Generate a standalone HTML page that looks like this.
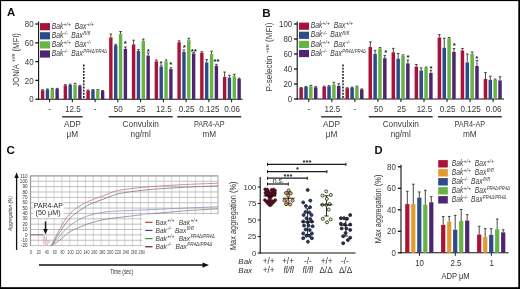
<!DOCTYPE html>
<html><head><meta charset="utf-8"><title>Figure</title>
<style>
html,body{margin:0;padding:0;background:#fff;}
body{width:520px;height:289px;overflow:hidden;}
svg{display:block;font-family:"Liberation Sans", sans-serif;filter:blur(0.35px);}
</style></head>
<body>
<svg width="520" height="289" viewBox="0 0 520 289">
<rect x="0" y="0" width="520" height="289" fill="#fff"/>
<line x1="38.6" y1="21.5" x2="38.6" y2="99.7" stroke="#111" stroke-width="1.1" />
<line x1="38.1" y1="99.2" x2="242.5" y2="99.2" stroke="#111" stroke-width="1.1" />
<line x1="35.4" y1="99.2" x2="38.6" y2="99.2" stroke="#111" stroke-width="1.3" />
<text x="33.6" y="102.3" font-size="8.7" text-anchor="end" font-style="normal" font-weight="normal" fill="#3a3a3a" textLength="4.4" lengthAdjust="spacingAndGlyphs">0</text>
<line x1="35.4" y1="80.4" x2="38.6" y2="80.4" stroke="#111" stroke-width="1.3" />
<text x="33.6" y="83.5" font-size="8.7" text-anchor="end" font-style="normal" font-weight="normal" fill="#3a3a3a" textLength="8.81" lengthAdjust="spacingAndGlyphs">20</text>
<line x1="35.4" y1="61.6" x2="38.6" y2="61.6" stroke="#111" stroke-width="1.3" />
<text x="33.6" y="64.7" font-size="8.7" text-anchor="end" font-style="normal" font-weight="normal" fill="#3a3a3a" textLength="8.81" lengthAdjust="spacingAndGlyphs">40</text>
<line x1="35.4" y1="42.8" x2="38.6" y2="42.8" stroke="#111" stroke-width="1.3" />
<text x="33.6" y="45.9" font-size="8.7" text-anchor="end" font-style="normal" font-weight="normal" fill="#3a3a3a" textLength="8.81" lengthAdjust="spacingAndGlyphs">60</text>
<line x1="35.4" y1="24" x2="38.6" y2="24" stroke="#111" stroke-width="1.3" />
<text x="33.6" y="27.1" font-size="8.7" text-anchor="end" font-style="normal" font-weight="normal" fill="#3a3a3a" textLength="8.81" lengthAdjust="spacingAndGlyphs">80</text>
<line x1="49.6" y1="99.2" x2="49.6" y2="102.2" stroke="#111" stroke-width="1" />
<line x1="42.6" y1="90.27" x2="42.6" y2="89.71" stroke="#333" stroke-width="0.9" />
<line x1="41.3" y1="89.71" x2="43.9" y2="89.71" stroke="#333" stroke-width="0.9" />
<rect x="40.9" y="90.27" width="3.4" height="8.93" fill="#aa1238"/>
<line x1="47.45" y1="89.52" x2="47.45" y2="88.95" stroke="#333" stroke-width="0.9" />
<line x1="46.15" y1="88.95" x2="48.75" y2="88.95" stroke="#333" stroke-width="0.9" />
<rect x="45.75" y="89.52" width="3.4" height="9.68" fill="#2b4b89"/>
<line x1="52.3" y1="88.95" x2="52.3" y2="88.39" stroke="#333" stroke-width="0.9" />
<line x1="51" y1="88.39" x2="53.6" y2="88.39" stroke="#333" stroke-width="0.9" />
<rect x="50.6" y="88.95" width="3.4" height="10.25" fill="#66b443"/>
<line x1="57.15" y1="88.95" x2="57.15" y2="88.39" stroke="#333" stroke-width="0.9" />
<line x1="55.85" y1="88.39" x2="58.45" y2="88.39" stroke="#333" stroke-width="0.9" />
<rect x="55.45" y="88.95" width="3.4" height="10.25" fill="#4f2571"/>
<line x1="72.35" y1="99.2" x2="72.35" y2="102.2" stroke="#111" stroke-width="1" />
<line x1="65.35" y1="85.38" x2="65.35" y2="84.63" stroke="#333" stroke-width="0.9" />
<line x1="64.05" y1="84.63" x2="66.65" y2="84.63" stroke="#333" stroke-width="0.9" />
<rect x="63.65" y="85.38" width="3.4" height="13.82" fill="#aa1238"/>
<line x1="70.2" y1="84.91" x2="70.2" y2="84.16" stroke="#333" stroke-width="0.9" />
<line x1="68.9" y1="84.16" x2="71.5" y2="84.16" stroke="#333" stroke-width="0.9" />
<rect x="68.5" y="84.91" width="3.4" height="14.29" fill="#2b4b89"/>
<line x1="75.05" y1="84.44" x2="75.05" y2="83.31" stroke="#333" stroke-width="0.9" />
<line x1="73.75" y1="83.31" x2="76.35" y2="83.31" stroke="#333" stroke-width="0.9" />
<rect x="73.35" y="84.44" width="3.4" height="14.76" fill="#66b443"/>
<line x1="79.9" y1="86.13" x2="79.9" y2="85.38" stroke="#333" stroke-width="0.9" />
<line x1="78.6" y1="85.38" x2="81.2" y2="85.38" stroke="#333" stroke-width="0.9" />
<rect x="78.2" y="86.13" width="3.4" height="13.07" fill="#4f2571"/>
<line x1="95.1" y1="99.2" x2="95.1" y2="102.2" stroke="#111" stroke-width="1" />
<line x1="88.1" y1="90.46" x2="88.1" y2="89.99" stroke="#333" stroke-width="0.9" />
<line x1="86.8" y1="89.99" x2="89.4" y2="89.99" stroke="#333" stroke-width="0.9" />
<rect x="86.4" y="90.46" width="3.4" height="8.74" fill="#aa1238"/>
<line x1="92.95" y1="90.08" x2="92.95" y2="89.61" stroke="#333" stroke-width="0.9" />
<line x1="91.65" y1="89.61" x2="94.25" y2="89.61" stroke="#333" stroke-width="0.9" />
<rect x="91.25" y="90.08" width="3.4" height="9.12" fill="#2b4b89"/>
<line x1="97.8" y1="90.08" x2="97.8" y2="89.61" stroke="#333" stroke-width="0.9" />
<line x1="96.5" y1="89.61" x2="99.1" y2="89.61" stroke="#333" stroke-width="0.9" />
<rect x="96.1" y="90.08" width="3.4" height="9.12" fill="#66b443"/>
<line x1="102.65" y1="91.02" x2="102.65" y2="90.55" stroke="#333" stroke-width="0.9" />
<line x1="101.35" y1="90.55" x2="103.95" y2="90.55" stroke="#333" stroke-width="0.9" />
<rect x="100.95" y="91.02" width="3.4" height="8.18" fill="#4f2571"/>
<line x1="117.85" y1="99.2" x2="117.85" y2="102.2" stroke="#111" stroke-width="1" />
<line x1="110.85" y1="37.44" x2="110.85" y2="34.06" stroke="#333" stroke-width="0.9" />
<line x1="109.55" y1="34.06" x2="112.15" y2="34.06" stroke="#333" stroke-width="0.9" />
<rect x="109.15" y="37.44" width="3.4" height="61.76" fill="#aa1238"/>
<line x1="115.7" y1="45.24" x2="115.7" y2="44.3" stroke="#333" stroke-width="0.9" />
<line x1="114.4" y1="44.3" x2="117" y2="44.3" stroke="#333" stroke-width="0.9" />
<rect x="114" y="45.24" width="3.4" height="53.96" fill="#2b4b89"/>
<line x1="120.55" y1="33.96" x2="120.55" y2="31.52" stroke="#333" stroke-width="0.9" />
<line x1="119.25" y1="31.52" x2="121.85" y2="31.52" stroke="#333" stroke-width="0.9" />
<rect x="118.85" y="33.96" width="3.4" height="65.24" fill="#66b443"/>
<line x1="125.4" y1="48.91" x2="125.4" y2="47.03" stroke="#333" stroke-width="0.9" />
<line x1="124.1" y1="47.03" x2="126.7" y2="47.03" stroke="#333" stroke-width="0.9" />
<rect x="123.7" y="48.91" width="3.4" height="50.29" fill="#4f2571"/>
<line x1="140.6" y1="99.2" x2="140.6" y2="102.2" stroke="#111" stroke-width="1" />
<line x1="133.6" y1="44.4" x2="133.6" y2="40.17" stroke="#333" stroke-width="0.9" />
<line x1="132.3" y1="40.17" x2="134.9" y2="40.17" stroke="#333" stroke-width="0.9" />
<rect x="131.9" y="44.4" width="3.4" height="54.8" fill="#aa1238"/>
<line x1="138.45" y1="50.98" x2="138.45" y2="49.57" stroke="#333" stroke-width="0.9" />
<line x1="137.15" y1="49.57" x2="139.75" y2="49.57" stroke="#333" stroke-width="0.9" />
<rect x="136.75" y="50.98" width="3.4" height="48.22" fill="#2b4b89"/>
<line x1="143.3" y1="40.92" x2="143.3" y2="39.04" stroke="#333" stroke-width="0.9" />
<line x1="142" y1="39.04" x2="144.6" y2="39.04" stroke="#333" stroke-width="0.9" />
<rect x="141.6" y="40.92" width="3.4" height="58.28" fill="#66b443"/>
<line x1="148.15" y1="55.58" x2="148.15" y2="52.95" stroke="#333" stroke-width="0.9" />
<line x1="146.85" y1="52.95" x2="149.45" y2="52.95" stroke="#333" stroke-width="0.9" />
<rect x="146.45" y="55.58" width="3.4" height="43.62" fill="#4f2571"/>
<line x1="163.35" y1="99.2" x2="163.35" y2="102.2" stroke="#111" stroke-width="1" />
<line x1="156.35" y1="61.32" x2="156.35" y2="59.91" stroke="#333" stroke-width="0.9" />
<line x1="155.05" y1="59.91" x2="157.65" y2="59.91" stroke="#333" stroke-width="0.9" />
<rect x="154.65" y="61.32" width="3.4" height="37.88" fill="#aa1238"/>
<line x1="161.2" y1="66.49" x2="161.2" y2="65.08" stroke="#333" stroke-width="0.9" />
<line x1="159.9" y1="65.08" x2="162.5" y2="65.08" stroke="#333" stroke-width="0.9" />
<rect x="159.5" y="66.49" width="3.4" height="32.71" fill="#2b4b89"/>
<line x1="166.05" y1="61.32" x2="166.05" y2="59.91" stroke="#333" stroke-width="0.9" />
<line x1="164.75" y1="59.91" x2="167.35" y2="59.91" stroke="#333" stroke-width="0.9" />
<rect x="164.35" y="61.32" width="3.4" height="37.88" fill="#66b443"/>
<line x1="170.9" y1="69.12" x2="170.9" y2="67.71" stroke="#333" stroke-width="0.9" />
<line x1="169.6" y1="67.71" x2="172.2" y2="67.71" stroke="#333" stroke-width="0.9" />
<rect x="169.2" y="69.12" width="3.4" height="30.08" fill="#4f2571"/>
<line x1="186.1" y1="99.2" x2="186.1" y2="102.2" stroke="#111" stroke-width="1" />
<line x1="179.1" y1="42.24" x2="179.1" y2="40.83" stroke="#333" stroke-width="0.9" />
<line x1="177.8" y1="40.83" x2="180.4" y2="40.83" stroke="#333" stroke-width="0.9" />
<rect x="177.4" y="42.24" width="3.4" height="56.96" fill="#aa1238"/>
<line x1="183.95" y1="51.92" x2="183.95" y2="49.94" stroke="#333" stroke-width="0.9" />
<line x1="182.65" y1="49.94" x2="185.25" y2="49.94" stroke="#333" stroke-width="0.9" />
<rect x="182.25" y="51.92" width="3.4" height="47.28" fill="#2b4b89"/>
<line x1="188.8" y1="40.17" x2="188.8" y2="38.29" stroke="#333" stroke-width="0.9" />
<line x1="187.5" y1="38.29" x2="190.1" y2="38.29" stroke="#333" stroke-width="0.9" />
<rect x="187.1" y="40.17" width="3.4" height="59.03" fill="#66b443"/>
<line x1="193.65" y1="53.52" x2="193.65" y2="52.58" stroke="#333" stroke-width="0.9" />
<line x1="192.35" y1="52.58" x2="194.95" y2="52.58" stroke="#333" stroke-width="0.9" />
<rect x="191.95" y="53.52" width="3.4" height="45.68" fill="#4f2571"/>
<line x1="208.85" y1="99.2" x2="208.85" y2="102.2" stroke="#111" stroke-width="1" />
<line x1="201.85" y1="52.67" x2="201.85" y2="51.73" stroke="#333" stroke-width="0.9" />
<line x1="200.55" y1="51.73" x2="203.15" y2="51.73" stroke="#333" stroke-width="0.9" />
<rect x="200.15" y="52.67" width="3.4" height="46.53" fill="#aa1238"/>
<line x1="206.7" y1="62.45" x2="206.7" y2="59.63" stroke="#333" stroke-width="0.9" />
<line x1="205.4" y1="59.63" x2="208" y2="59.63" stroke="#333" stroke-width="0.9" />
<rect x="205" y="62.45" width="3.4" height="36.75" fill="#2b4b89"/>
<line x1="211.55" y1="53.99" x2="211.55" y2="51.26" stroke="#333" stroke-width="0.9" />
<line x1="210.25" y1="51.26" x2="212.85" y2="51.26" stroke="#333" stroke-width="0.9" />
<rect x="209.85" y="53.99" width="3.4" height="45.21" fill="#66b443"/>
<line x1="216.4" y1="65.74" x2="216.4" y2="64.33" stroke="#333" stroke-width="0.9" />
<line x1="215.1" y1="64.33" x2="217.7" y2="64.33" stroke="#333" stroke-width="0.9" />
<rect x="214.7" y="65.74" width="3.4" height="33.46" fill="#4f2571"/>
<line x1="231.6" y1="99.2" x2="231.6" y2="102.2" stroke="#111" stroke-width="1" />
<line x1="224.6" y1="77.02" x2="224.6" y2="72.03" stroke="#333" stroke-width="0.9" />
<line x1="223.3" y1="72.03" x2="225.9" y2="72.03" stroke="#333" stroke-width="0.9" />
<rect x="222.9" y="77.02" width="3.4" height="22.18" fill="#aa1238"/>
<line x1="229.45" y1="77.58" x2="229.45" y2="75.32" stroke="#333" stroke-width="0.9" />
<line x1="228.15" y1="75.32" x2="230.75" y2="75.32" stroke="#333" stroke-width="0.9" />
<rect x="227.75" y="77.58" width="3.4" height="21.62" fill="#2b4b89"/>
<line x1="234.3" y1="76.17" x2="234.3" y2="74.29" stroke="#333" stroke-width="0.9" />
<line x1="233" y1="74.29" x2="235.6" y2="74.29" stroke="#333" stroke-width="0.9" />
<rect x="232.6" y="76.17" width="3.4" height="23.03" fill="#66b443"/>
<line x1="239.15" y1="78.99" x2="239.15" y2="78.14" stroke="#333" stroke-width="0.9" />
<line x1="237.85" y1="78.14" x2="240.45" y2="78.14" stroke="#333" stroke-width="0.9" />
<rect x="237.45" y="78.99" width="3.4" height="20.21" fill="#4f2571"/>
<text x="125.3" y="46.4" font-size="8" text-anchor="middle" font-weight="bold" font-style="normal" fill="#1a1a1a" >*</text>
<text x="148.2" y="54.4" font-size="8" text-anchor="middle" font-weight="bold" font-style="normal" fill="#1a1a1a" >*</text>
<text x="161" y="66.4" font-size="8" text-anchor="middle" font-weight="bold" font-style="normal" fill="#1a1a1a" >*</text>
<text x="170.7" y="67.4" font-size="8" text-anchor="middle" font-weight="bold" font-style="normal" fill="#1a1a1a" >*</text>
<text x="184.2" y="49.7" font-size="8" text-anchor="middle" font-weight="bold" font-style="normal" fill="#1a1a1a" >*</text>
<text x="193.8" y="53.9" font-size="8" text-anchor="middle" font-weight="bold" font-style="normal" fill="#1a1a1a" >**</text>
<text x="216.6" y="64.3" font-size="8" text-anchor="middle" font-weight="bold" font-style="normal" fill="#1a1a1a" >**</text>
<line x1="83.8" y1="64.5" x2="83.8" y2="98.2" stroke="#151515" stroke-width="1.5" stroke-dasharray="1.9,1.25"/>
<text x="49.6" y="112.4" font-size="8.7" text-anchor="middle" font-style="normal" font-weight="normal" fill="#3a3a3a" textLength="2.69" lengthAdjust="spacingAndGlyphs">-</text>
<text x="72.85" y="112.4" font-size="8.7" text-anchor="middle" font-style="normal" font-weight="normal" fill="#3a3a3a" textLength="15.75" lengthAdjust="spacingAndGlyphs">12.5</text>
<text x="95.1" y="112.4" font-size="8.7" text-anchor="middle" font-style="normal" font-weight="normal" fill="#3a3a3a" textLength="2.69" lengthAdjust="spacingAndGlyphs">-</text>
<text x="118.35" y="112.4" font-size="8.7" text-anchor="middle" font-style="normal" font-weight="normal" fill="#3a3a3a" textLength="9" lengthAdjust="spacingAndGlyphs">50</text>
<text x="141.1" y="112.4" font-size="8.7" text-anchor="middle" font-style="normal" font-weight="normal" fill="#3a3a3a" textLength="9" lengthAdjust="spacingAndGlyphs">25</text>
<text x="163.85" y="112.4" font-size="8.7" text-anchor="middle" font-style="normal" font-weight="normal" fill="#3a3a3a" textLength="15.75" lengthAdjust="spacingAndGlyphs">12.5</text>
<text x="186.6" y="112.4" font-size="8.7" text-anchor="middle" font-style="normal" font-weight="normal" fill="#3a3a3a" textLength="15.75" lengthAdjust="spacingAndGlyphs">0.25</text>
<text x="209.35" y="112.4" font-size="8.7" text-anchor="middle" font-style="normal" font-weight="normal" fill="#3a3a3a" textLength="20.25" lengthAdjust="spacingAndGlyphs">0.125</text>
<text x="232.1" y="112.4" font-size="8.7" text-anchor="middle" font-style="normal" font-weight="normal" fill="#3a3a3a" textLength="15.75" lengthAdjust="spacingAndGlyphs">0.06</text>
<line x1="62.1" y1="116.8" x2="82.7" y2="116.8" stroke="#333" stroke-width="1.4" />
<text x="72.4" y="126.7" font-size="8.5" text-anchor="middle" font-style="normal" font-weight="normal" fill="#3a3a3a" textLength="16.95" lengthAdjust="spacingAndGlyphs">ADP</text>
<text x="72.4" y="136.7" font-size="8.5" text-anchor="middle" font-style="normal" font-weight="normal" fill="#3a3a3a" textLength="11.62" lengthAdjust="spacingAndGlyphs">μM</text>
<line x1="108.7" y1="116.8" x2="172.7" y2="116.8" stroke="#333" stroke-width="1.4" />
<text x="140.7" y="126.7" font-size="8.5" text-anchor="middle" font-style="normal" font-weight="normal" fill="#3a3a3a" textLength="36.21" lengthAdjust="spacingAndGlyphs">Convulxin</text>
<text x="140.7" y="136.7" font-size="8.5" text-anchor="middle" font-style="normal" font-weight="normal" fill="#3a3a3a" textLength="20.16" lengthAdjust="spacingAndGlyphs">ng/ml</text>
<line x1="177.3" y1="116.8" x2="241.2" y2="116.8" stroke="#333" stroke-width="1.4" />
<text x="209.25" y="126.7" font-size="8.5" text-anchor="middle" font-style="normal" font-weight="normal" fill="#3a3a3a" textLength="30.74" lengthAdjust="spacingAndGlyphs">PAR4-AP</text>
<text x="209.25" y="136.7" font-size="8.5" text-anchor="middle" font-style="normal" font-weight="normal" fill="#3a3a3a" textLength="13.74" lengthAdjust="spacingAndGlyphs">mM</text>
<rect x="40" y="23.1" width="10" height="7.2" fill="#aa1238"/>
<text font-style="italic" fill="#3a3a3a" font-size="8.4" x="51.7" y="28.8" textLength="11.6" lengthAdjust="spacingAndGlyphs">Bak</text>
<text font-style="italic" fill="#3a3a3a" font-size="5.6" x="63.6" y="25.9" textLength="7.2" lengthAdjust="spacingAndGlyphs">+/+</text>
<text font-style="italic" fill="#3a3a3a" font-size="8.4" x="74.8" y="28.8" textLength="11.6" lengthAdjust="spacingAndGlyphs">Bax</text>
<text font-style="italic" fill="#3a3a3a" font-size="5.6" x="86.8" y="25.9" textLength="7.2" lengthAdjust="spacingAndGlyphs">+/+</text>
<rect x="40" y="32.2" width="10" height="7.2" fill="#2b4b89"/>
<text font-style="italic" fill="#3a3a3a" font-size="8.4" x="51.7" y="37.9" textLength="11.6" lengthAdjust="spacingAndGlyphs">Bak</text>
<text font-style="italic" fill="#3a3a3a" font-size="5.6" x="63.6" y="35" textLength="4.2" lengthAdjust="spacingAndGlyphs">-/-</text>
<text font-style="italic" fill="#3a3a3a" font-size="8.4" x="71.3" y="37.9" textLength="11.6" lengthAdjust="spacingAndGlyphs">Bax</text>
<text font-style="italic" fill="#3a3a3a" font-size="5.6" x="83.3" y="35" textLength="7" lengthAdjust="spacingAndGlyphs">fl/fl</text>
<rect x="40" y="41.3" width="10" height="7.2" fill="#66b443"/>
<text font-style="italic" fill="#3a3a3a" font-size="8.4" x="51.7" y="47" textLength="11.6" lengthAdjust="spacingAndGlyphs">Bak</text>
<text font-style="italic" fill="#3a3a3a" font-size="5.6" x="63.6" y="44.1" textLength="7.2" lengthAdjust="spacingAndGlyphs">+/+</text>
<text font-style="italic" fill="#3a3a3a" font-size="8.4" x="74.8" y="47" textLength="11.6" lengthAdjust="spacingAndGlyphs">Bax</text>
<text font-style="italic" fill="#3a3a3a" font-size="5.6" x="86.8" y="44.1" textLength="4.2" lengthAdjust="spacingAndGlyphs">-/-</text>
<rect x="40" y="50.4" width="10" height="7.2" fill="#4f2571"/>
<text font-style="italic" fill="#3a3a3a" font-size="8.4" x="51.7" y="56.1" textLength="11.6" lengthAdjust="spacingAndGlyphs">Bak</text>
<text font-style="italic" fill="#3a3a3a" font-size="5.6" x="63.6" y="53.2" textLength="4.2" lengthAdjust="spacingAndGlyphs">-/-</text>
<text font-style="italic" fill="#3a3a3a" font-size="8.4" x="71.3" y="56.1" textLength="11.6" lengthAdjust="spacingAndGlyphs">Bax</text>
<text font-style="italic" fill="#3a3a3a" font-size="5.6" x="83.3" y="53.2" textLength="23.6" lengthAdjust="spacingAndGlyphs">PR4Δ/PR4Δ</text>
<text transform="translate(18.7,59.9) rotate(-90)" font-size="9" text-anchor="middle" fill="#3a3a3a" textLength="53.6" lengthAdjust="spacingAndGlyphs">JON/A <tspan font-size='6.2' dy='-3.4'>+ve</tspan><tspan dy='3.4'> (MFI)</tspan></text>
<line x1="297.2" y1="21.5" x2="297.2" y2="99.5" stroke="#111" stroke-width="1.1" />
<line x1="296.7" y1="99" x2="504" y2="99" stroke="#111" stroke-width="1.1" />
<line x1="294" y1="99" x2="297.2" y2="99" stroke="#111" stroke-width="1.3" />
<text x="292.2" y="102.1" font-size="8.7" text-anchor="end" font-style="normal" font-weight="normal" fill="#3a3a3a" textLength="4.4" lengthAdjust="spacingAndGlyphs">0</text>
<line x1="294" y1="84" x2="297.2" y2="84" stroke="#111" stroke-width="1.3" />
<text x="292.2" y="87.1" font-size="8.7" text-anchor="end" font-style="normal" font-weight="normal" fill="#3a3a3a" textLength="8.81" lengthAdjust="spacingAndGlyphs">20</text>
<line x1="294" y1="69" x2="297.2" y2="69" stroke="#111" stroke-width="1.3" />
<text x="292.2" y="72.1" font-size="8.7" text-anchor="end" font-style="normal" font-weight="normal" fill="#3a3a3a" textLength="8.81" lengthAdjust="spacingAndGlyphs">40</text>
<line x1="294" y1="54" x2="297.2" y2="54" stroke="#111" stroke-width="1.3" />
<text x="292.2" y="57.1" font-size="8.7" text-anchor="end" font-style="normal" font-weight="normal" fill="#3a3a3a" textLength="8.81" lengthAdjust="spacingAndGlyphs">60</text>
<line x1="294" y1="39" x2="297.2" y2="39" stroke="#111" stroke-width="1.3" />
<text x="292.2" y="42.1" font-size="8.7" text-anchor="end" font-style="normal" font-weight="normal" fill="#3a3a3a" textLength="8.81" lengthAdjust="spacingAndGlyphs">80</text>
<line x1="294" y1="24" x2="297.2" y2="24" stroke="#111" stroke-width="1.3" />
<text x="292.2" y="27.1" font-size="8.7" text-anchor="end" font-style="normal" font-weight="normal" fill="#3a3a3a" textLength="13.21" lengthAdjust="spacingAndGlyphs">100</text>
<line x1="308.8" y1="99" x2="308.8" y2="102" stroke="#111" stroke-width="1" />
<line x1="301.15" y1="87.97" x2="301.15" y2="87.38" stroke="#333" stroke-width="0.9" />
<line x1="299.85" y1="87.38" x2="302.45" y2="87.38" stroke="#333" stroke-width="0.9" />
<rect x="299.4" y="87.97" width="3.5" height="11.03" fill="#aa1238"/>
<line x1="306" y1="87" x2="306" y2="86.4" stroke="#333" stroke-width="0.9" />
<line x1="304.7" y1="86.4" x2="307.3" y2="86.4" stroke="#333" stroke-width="0.9" />
<rect x="304.25" y="87" width="3.5" height="12" fill="#2b4b89"/>
<line x1="310.85" y1="86.25" x2="310.85" y2="85.35" stroke="#333" stroke-width="0.9" />
<line x1="309.55" y1="85.35" x2="312.15" y2="85.35" stroke="#333" stroke-width="0.9" />
<rect x="309.1" y="86.25" width="3.5" height="12.75" fill="#66b443"/>
<line x1="315.7" y1="87.3" x2="315.7" y2="86.7" stroke="#333" stroke-width="0.9" />
<line x1="314.4" y1="86.7" x2="317" y2="86.7" stroke="#333" stroke-width="0.9" />
<rect x="313.95" y="87.3" width="3.5" height="11.7" fill="#4f2571"/>
<line x1="331.84" y1="99" x2="331.84" y2="102" stroke="#111" stroke-width="1" />
<line x1="324.19" y1="86.78" x2="324.19" y2="86.18" stroke="#333" stroke-width="0.9" />
<line x1="322.89" y1="86.18" x2="325.49" y2="86.18" stroke="#333" stroke-width="0.9" />
<rect x="322.44" y="86.78" width="3.5" height="12.22" fill="#aa1238"/>
<line x1="329.04" y1="86.25" x2="329.04" y2="85.65" stroke="#333" stroke-width="0.9" />
<line x1="327.74" y1="85.65" x2="330.34" y2="85.65" stroke="#333" stroke-width="0.9" />
<rect x="327.29" y="86.25" width="3.5" height="12.75" fill="#2b4b89"/>
<line x1="333.89" y1="84.38" x2="333.89" y2="82.28" stroke="#333" stroke-width="0.9" />
<line x1="332.59" y1="82.28" x2="335.19" y2="82.28" stroke="#333" stroke-width="0.9" />
<rect x="332.14" y="84.38" width="3.5" height="14.62" fill="#66b443"/>
<line x1="338.74" y1="85.88" x2="338.74" y2="83.78" stroke="#333" stroke-width="0.9" />
<line x1="337.44" y1="83.78" x2="340.04" y2="83.78" stroke="#333" stroke-width="0.9" />
<rect x="336.99" y="85.88" width="3.5" height="13.12" fill="#4f2571"/>
<line x1="354.88" y1="99" x2="354.88" y2="102" stroke="#111" stroke-width="1" />
<line x1="347.23" y1="88.2" x2="347.23" y2="87.75" stroke="#333" stroke-width="0.9" />
<line x1="345.93" y1="87.75" x2="348.53" y2="87.75" stroke="#333" stroke-width="0.9" />
<rect x="345.48" y="88.2" width="3.5" height="10.8" fill="#aa1238"/>
<line x1="352.08" y1="87.53" x2="352.08" y2="87.08" stroke="#333" stroke-width="0.9" />
<line x1="350.78" y1="87.08" x2="353.38" y2="87.08" stroke="#333" stroke-width="0.9" />
<rect x="350.33" y="87.53" width="3.5" height="11.47" fill="#2b4b89"/>
<line x1="356.93" y1="86.85" x2="356.93" y2="86.1" stroke="#333" stroke-width="0.9" />
<line x1="355.63" y1="86.1" x2="358.23" y2="86.1" stroke="#333" stroke-width="0.9" />
<rect x="355.18" y="86.85" width="3.5" height="12.15" fill="#66b443"/>
<line x1="361.78" y1="89.4" x2="361.78" y2="88.95" stroke="#333" stroke-width="0.9" />
<line x1="360.48" y1="88.95" x2="363.08" y2="88.95" stroke="#333" stroke-width="0.9" />
<rect x="360.03" y="89.4" width="3.5" height="9.6" fill="#4f2571"/>
<line x1="377.92" y1="99" x2="377.92" y2="102" stroke="#111" stroke-width="1" />
<line x1="370.27" y1="47.03" x2="370.27" y2="41.93" stroke="#333" stroke-width="0.9" />
<line x1="368.97" y1="41.93" x2="371.57" y2="41.93" stroke="#333" stroke-width="0.9" />
<rect x="368.52" y="47.03" width="3.5" height="51.97" fill="#aa1238"/>
<line x1="375.12" y1="54" x2="375.12" y2="50.4" stroke="#333" stroke-width="0.9" />
<line x1="373.82" y1="50.4" x2="376.42" y2="50.4" stroke="#333" stroke-width="0.9" />
<rect x="373.37" y="54" width="3.5" height="45" fill="#2b4b89"/>
<line x1="379.97" y1="48.38" x2="379.97" y2="47.62" stroke="#333" stroke-width="0.9" />
<line x1="378.67" y1="47.62" x2="381.27" y2="47.62" stroke="#333" stroke-width="0.9" />
<rect x="378.22" y="48.38" width="3.5" height="50.62" fill="#66b443"/>
<line x1="384.82" y1="58.2" x2="384.82" y2="55.58" stroke="#333" stroke-width="0.9" />
<line x1="383.52" y1="55.58" x2="386.12" y2="55.58" stroke="#333" stroke-width="0.9" />
<rect x="383.07" y="58.2" width="3.5" height="40.8" fill="#4f2571"/>
<line x1="400.96" y1="99" x2="400.96" y2="102" stroke="#111" stroke-width="1" />
<line x1="393.31" y1="52.28" x2="393.31" y2="48.38" stroke="#333" stroke-width="0.9" />
<line x1="392.01" y1="48.38" x2="394.61" y2="48.38" stroke="#333" stroke-width="0.9" />
<rect x="391.56" y="52.28" width="3.5" height="46.72" fill="#aa1238"/>
<line x1="398.16" y1="58.72" x2="398.16" y2="53.55" stroke="#333" stroke-width="0.9" />
<line x1="396.86" y1="53.55" x2="399.46" y2="53.55" stroke="#333" stroke-width="0.9" />
<rect x="396.41" y="58.72" width="3.5" height="40.28" fill="#2b4b89"/>
<line x1="403.01" y1="55.58" x2="403.01" y2="54.83" stroke="#333" stroke-width="0.9" />
<line x1="401.71" y1="54.83" x2="404.31" y2="54.83" stroke="#333" stroke-width="0.9" />
<rect x="401.26" y="55.58" width="3.5" height="43.42" fill="#66b443"/>
<line x1="407.86" y1="63.38" x2="407.86" y2="60" stroke="#333" stroke-width="0.9" />
<line x1="406.56" y1="60" x2="409.16" y2="60" stroke="#333" stroke-width="0.9" />
<rect x="406.11" y="63.38" width="3.5" height="35.62" fill="#4f2571"/>
<line x1="424" y1="99" x2="424" y2="102" stroke="#111" stroke-width="1" />
<line x1="416.35" y1="66.53" x2="416.35" y2="64.5" stroke="#333" stroke-width="0.9" />
<line x1="415.05" y1="64.5" x2="417.65" y2="64.5" stroke="#333" stroke-width="0.9" />
<rect x="414.6" y="66.53" width="3.5" height="32.47" fill="#aa1238"/>
<line x1="421.2" y1="70.5" x2="421.2" y2="67.88" stroke="#333" stroke-width="0.9" />
<line x1="419.9" y1="67.88" x2="422.5" y2="67.88" stroke="#333" stroke-width="0.9" />
<rect x="419.45" y="70.5" width="3.5" height="28.5" fill="#2b4b89"/>
<line x1="426.05" y1="67.8" x2="426.05" y2="67.05" stroke="#333" stroke-width="0.9" />
<line x1="424.75" y1="67.05" x2="427.35" y2="67.05" stroke="#333" stroke-width="0.9" />
<rect x="424.3" y="67.8" width="3.5" height="31.2" fill="#66b443"/>
<line x1="430.9" y1="72.97" x2="430.9" y2="70.35" stroke="#333" stroke-width="0.9" />
<line x1="429.6" y1="70.35" x2="432.2" y2="70.35" stroke="#333" stroke-width="0.9" />
<rect x="429.15" y="72.97" width="3.5" height="26.03" fill="#4f2571"/>
<line x1="447.04" y1="99" x2="447.04" y2="102" stroke="#111" stroke-width="1" />
<line x1="439.39" y1="37.5" x2="439.39" y2="34.65" stroke="#333" stroke-width="0.9" />
<line x1="438.09" y1="34.65" x2="440.69" y2="34.65" stroke="#333" stroke-width="0.9" />
<rect x="437.64" y="37.5" width="3.5" height="61.5" fill="#aa1238"/>
<line x1="444.24" y1="47.7" x2="444.24" y2="38.32" stroke="#333" stroke-width="0.9" />
<line x1="442.94" y1="38.32" x2="445.54" y2="38.32" stroke="#333" stroke-width="0.9" />
<rect x="442.49" y="47.7" width="3.5" height="51.3" fill="#2b4b89"/>
<line x1="449.09" y1="38.25" x2="449.09" y2="37.5" stroke="#333" stroke-width="0.9" />
<line x1="447.79" y1="37.5" x2="450.39" y2="37.5" stroke="#333" stroke-width="0.9" />
<rect x="447.34" y="38.25" width="3.5" height="60.75" fill="#66b443"/>
<line x1="453.94" y1="51.9" x2="453.94" y2="48.53" stroke="#333" stroke-width="0.9" />
<line x1="452.64" y1="48.53" x2="455.24" y2="48.53" stroke="#333" stroke-width="0.9" />
<rect x="452.19" y="51.9" width="3.5" height="47.1" fill="#4f2571"/>
<line x1="470.08" y1="99" x2="470.08" y2="102" stroke="#111" stroke-width="1" />
<line x1="462.43" y1="50.47" x2="462.43" y2="48.45" stroke="#333" stroke-width="0.9" />
<line x1="461.13" y1="48.45" x2="463.73" y2="48.45" stroke="#333" stroke-width="0.9" />
<rect x="460.68" y="50.47" width="3.5" height="48.53" fill="#aa1238"/>
<line x1="467.28" y1="62.4" x2="467.28" y2="54" stroke="#333" stroke-width="0.9" />
<line x1="465.98" y1="54" x2="468.58" y2="54" stroke="#333" stroke-width="0.9" />
<rect x="465.53" y="62.4" width="3.5" height="36.6" fill="#2b4b89"/>
<line x1="472.13" y1="54" x2="472.13" y2="52.05" stroke="#333" stroke-width="0.9" />
<line x1="470.83" y1="52.05" x2="473.43" y2="52.05" stroke="#333" stroke-width="0.9" />
<rect x="470.38" y="54" width="3.5" height="45" fill="#66b443"/>
<line x1="476.98" y1="66" x2="476.98" y2="60.38" stroke="#333" stroke-width="0.9" />
<line x1="475.68" y1="60.38" x2="478.28" y2="60.38" stroke="#333" stroke-width="0.9" />
<rect x="475.23" y="66" width="3.5" height="33" fill="#4f2571"/>
<line x1="493.12" y1="99" x2="493.12" y2="102" stroke="#111" stroke-width="1" />
<line x1="485.47" y1="78.97" x2="485.47" y2="72.6" stroke="#333" stroke-width="0.9" />
<line x1="484.17" y1="72.6" x2="486.77" y2="72.6" stroke="#333" stroke-width="0.9" />
<rect x="483.72" y="78.97" width="3.5" height="20.03" fill="#aa1238"/>
<line x1="490.32" y1="79.8" x2="490.32" y2="76.2" stroke="#333" stroke-width="0.9" />
<line x1="489.02" y1="76.2" x2="491.62" y2="76.2" stroke="#333" stroke-width="0.9" />
<rect x="488.57" y="79.8" width="3.5" height="19.2" fill="#2b4b89"/>
<line x1="495.17" y1="79.8" x2="495.17" y2="79.05" stroke="#333" stroke-width="0.9" />
<line x1="493.87" y1="79.05" x2="496.47" y2="79.05" stroke="#333" stroke-width="0.9" />
<rect x="493.42" y="79.8" width="3.5" height="19.2" fill="#66b443"/>
<line x1="500.02" y1="80.4" x2="500.02" y2="76.8" stroke="#333" stroke-width="0.9" />
<line x1="498.72" y1="76.8" x2="501.32" y2="76.8" stroke="#333" stroke-width="0.9" />
<rect x="498.27" y="80.4" width="3.5" height="18.6" fill="#4f2571"/>
<text x="385.9" y="54.9" font-size="8" text-anchor="middle" font-weight="bold" font-style="normal" fill="#1a1a1a" >*</text>
<text x="408" y="59.9" font-size="8" text-anchor="middle" font-weight="bold" font-style="normal" fill="#1a1a1a" >*</text>
<text x="431" y="70.9" font-size="8" text-anchor="middle" font-weight="bold" font-style="normal" fill="#1a1a1a" >*</text>
<text x="454.3" y="47.7" font-size="8" text-anchor="middle" font-weight="bold" font-style="normal" fill="#1a1a1a" >*</text>
<text x="476.8" y="60.7" font-size="8" text-anchor="middle" font-weight="bold" font-style="normal" fill="#1a1a1a" >*</text>
<line x1="343" y1="64.5" x2="343" y2="98" stroke="#151515" stroke-width="1.5" stroke-dasharray="1.9,1.25"/>
<text x="308.8" y="112.4" font-size="8.7" text-anchor="middle" font-style="normal" font-weight="normal" fill="#3a3a3a" textLength="2.69" lengthAdjust="spacingAndGlyphs">-</text>
<text x="332.34" y="112.4" font-size="8.7" text-anchor="middle" font-style="normal" font-weight="normal" fill="#3a3a3a" textLength="15.75" lengthAdjust="spacingAndGlyphs">12.5</text>
<text x="354.88" y="112.4" font-size="8.7" text-anchor="middle" font-style="normal" font-weight="normal" fill="#3a3a3a" textLength="2.69" lengthAdjust="spacingAndGlyphs">-</text>
<text x="378.42" y="112.4" font-size="8.7" text-anchor="middle" font-style="normal" font-weight="normal" fill="#3a3a3a" textLength="9" lengthAdjust="spacingAndGlyphs">50</text>
<text x="401.46" y="112.4" font-size="8.7" text-anchor="middle" font-style="normal" font-weight="normal" fill="#3a3a3a" textLength="9" lengthAdjust="spacingAndGlyphs">25</text>
<text x="424.5" y="112.4" font-size="8.7" text-anchor="middle" font-style="normal" font-weight="normal" fill="#3a3a3a" textLength="15.75" lengthAdjust="spacingAndGlyphs">12.5</text>
<text x="447.54" y="112.4" font-size="8.7" text-anchor="middle" font-style="normal" font-weight="normal" fill="#3a3a3a" textLength="15.75" lengthAdjust="spacingAndGlyphs">0.25</text>
<text x="470.58" y="112.4" font-size="8.7" text-anchor="middle" font-style="normal" font-weight="normal" fill="#3a3a3a" textLength="20.25" lengthAdjust="spacingAndGlyphs">0.125</text>
<text x="493.62" y="112.4" font-size="8.7" text-anchor="middle" font-style="normal" font-weight="normal" fill="#3a3a3a" textLength="15.75" lengthAdjust="spacingAndGlyphs">0.06</text>
<line x1="321" y1="116.8" x2="342.1" y2="116.8" stroke="#333" stroke-width="1.4" />
<text x="331.55" y="126.7" font-size="8.5" text-anchor="middle" font-style="normal" font-weight="normal" fill="#3a3a3a" textLength="16.95" lengthAdjust="spacingAndGlyphs">ADP</text>
<text x="331.55" y="136.7" font-size="8.5" text-anchor="middle" font-style="normal" font-weight="normal" fill="#3a3a3a" textLength="11.62" lengthAdjust="spacingAndGlyphs">μM</text>
<line x1="368.8" y1="116.8" x2="432.7" y2="116.8" stroke="#333" stroke-width="1.4" />
<text x="400.75" y="126.7" font-size="8.5" text-anchor="middle" font-style="normal" font-weight="normal" fill="#3a3a3a" textLength="36.21" lengthAdjust="spacingAndGlyphs">Convulxin</text>
<text x="400.75" y="136.7" font-size="8.5" text-anchor="middle" font-style="normal" font-weight="normal" fill="#3a3a3a" textLength="20.16" lengthAdjust="spacingAndGlyphs">ng/ml</text>
<line x1="438" y1="116.8" x2="501.7" y2="116.8" stroke="#333" stroke-width="1.4" />
<text x="469.85" y="126.7" font-size="8.5" text-anchor="middle" font-style="normal" font-weight="normal" fill="#3a3a3a" textLength="30.74" lengthAdjust="spacingAndGlyphs">PAR4-AP</text>
<text x="469.85" y="136.7" font-size="8.5" text-anchor="middle" font-style="normal" font-weight="normal" fill="#3a3a3a" textLength="13.74" lengthAdjust="spacingAndGlyphs">mM</text>
<rect x="299" y="22.6" width="10" height="7.2" fill="#aa1238"/>
<text font-style="italic" fill="#3a3a3a" font-size="8.4" x="310.7" y="28.3" textLength="11.6" lengthAdjust="spacingAndGlyphs">Bak</text>
<text font-style="italic" fill="#3a3a3a" font-size="5.6" x="322.6" y="25.4" textLength="7.2" lengthAdjust="spacingAndGlyphs">+/+</text>
<text font-style="italic" fill="#3a3a3a" font-size="8.4" x="333.8" y="28.3" textLength="11.6" lengthAdjust="spacingAndGlyphs">Bax</text>
<text font-style="italic" fill="#3a3a3a" font-size="5.6" x="345.8" y="25.4" textLength="7.2" lengthAdjust="spacingAndGlyphs">+/+</text>
<rect x="299" y="31.7" width="10" height="7.2" fill="#2b4b89"/>
<text font-style="italic" fill="#3a3a3a" font-size="8.4" x="310.7" y="37.4" textLength="11.6" lengthAdjust="spacingAndGlyphs">Bak</text>
<text font-style="italic" fill="#3a3a3a" font-size="5.6" x="322.6" y="34.5" textLength="4.2" lengthAdjust="spacingAndGlyphs">-/-</text>
<text font-style="italic" fill="#3a3a3a" font-size="8.4" x="330.3" y="37.4" textLength="11.6" lengthAdjust="spacingAndGlyphs">Bax</text>
<text font-style="italic" fill="#3a3a3a" font-size="5.6" x="342.3" y="34.5" textLength="7" lengthAdjust="spacingAndGlyphs">fl/fl</text>
<rect x="299" y="40.8" width="10" height="7.2" fill="#66b443"/>
<text font-style="italic" fill="#3a3a3a" font-size="8.4" x="310.7" y="46.5" textLength="11.6" lengthAdjust="spacingAndGlyphs">Bak</text>
<text font-style="italic" fill="#3a3a3a" font-size="5.6" x="322.6" y="43.6" textLength="7.2" lengthAdjust="spacingAndGlyphs">+/+</text>
<text font-style="italic" fill="#3a3a3a" font-size="8.4" x="333.8" y="46.5" textLength="11.6" lengthAdjust="spacingAndGlyphs">Bax</text>
<text font-style="italic" fill="#3a3a3a" font-size="5.6" x="345.8" y="43.6" textLength="4.2" lengthAdjust="spacingAndGlyphs">-/-</text>
<rect x="299" y="49.9" width="10" height="7.2" fill="#4f2571"/>
<text font-style="italic" fill="#3a3a3a" font-size="8.4" x="310.7" y="55.6" textLength="11.6" lengthAdjust="spacingAndGlyphs">Bak</text>
<text font-style="italic" fill="#3a3a3a" font-size="5.6" x="322.6" y="52.7" textLength="4.2" lengthAdjust="spacingAndGlyphs">-/-</text>
<text font-style="italic" fill="#3a3a3a" font-size="8.4" x="330.3" y="55.6" textLength="11.6" lengthAdjust="spacingAndGlyphs">Bax</text>
<text font-style="italic" fill="#3a3a3a" font-size="5.6" x="342.3" y="52.7" textLength="23.6" lengthAdjust="spacingAndGlyphs">PR4Δ/PR4Δ</text>
<text transform="translate(272.3,57) rotate(-90)" font-size="9" text-anchor="middle" fill="#3a3a3a" textLength="69" lengthAdjust="spacingAndGlyphs">P-selectin <tspan font-size='6.2' dy='-3.4'>+ve</tspan><tspan dy='3.4'> (MFI)</tspan></text>
<line x1="38.35" y1="175.9" x2="38.35" y2="245.6" stroke="#c6c6c6" stroke-width="0.7" />
<line x1="46.2" y1="175.9" x2="46.2" y2="245.6" stroke="#c6c6c6" stroke-width="0.7" />
<line x1="54.05" y1="175.9" x2="54.05" y2="245.6" stroke="#c6c6c6" stroke-width="0.7" />
<line x1="61.9" y1="175.9" x2="61.9" y2="245.6" stroke="#c6c6c6" stroke-width="0.7" />
<line x1="69.75" y1="175.9" x2="69.75" y2="245.6" stroke="#c6c6c6" stroke-width="0.7" />
<line x1="77.6" y1="175.9" x2="77.6" y2="245.6" stroke="#c6c6c6" stroke-width="0.7" />
<line x1="85.45" y1="175.9" x2="85.45" y2="245.6" stroke="#c6c6c6" stroke-width="0.7" />
<line x1="93.3" y1="175.9" x2="93.3" y2="245.6" stroke="#c6c6c6" stroke-width="0.7" />
<line x1="101.15" y1="175.9" x2="101.15" y2="245.6" stroke="#c6c6c6" stroke-width="0.7" />
<line x1="109" y1="175.9" x2="109" y2="245.6" stroke="#c6c6c6" stroke-width="0.7" />
<line x1="116.85" y1="175.9" x2="116.85" y2="245.6" stroke="#c6c6c6" stroke-width="0.7" />
<line x1="124.7" y1="175.9" x2="124.7" y2="245.6" stroke="#c6c6c6" stroke-width="0.7" />
<line x1="132.55" y1="175.9" x2="132.55" y2="245.6" stroke="#c6c6c6" stroke-width="0.7" />
<line x1="140.4" y1="175.9" x2="140.4" y2="245.6" stroke="#c6c6c6" stroke-width="0.7" />
<line x1="148.25" y1="175.9" x2="148.25" y2="245.6" stroke="#c6c6c6" stroke-width="0.7" />
<line x1="156.1" y1="175.9" x2="156.1" y2="245.6" stroke="#c6c6c6" stroke-width="0.7" />
<line x1="163.95" y1="175.9" x2="163.95" y2="245.6" stroke="#c6c6c6" stroke-width="0.7" />
<line x1="171.8" y1="175.9" x2="171.8" y2="245.6" stroke="#c6c6c6" stroke-width="0.7" />
<line x1="179.65" y1="175.9" x2="179.65" y2="245.6" stroke="#c6c6c6" stroke-width="0.7" />
<line x1="187.5" y1="175.9" x2="187.5" y2="245.6" stroke="#c6c6c6" stroke-width="0.7" />
<line x1="195.35" y1="175.9" x2="195.35" y2="245.6" stroke="#c6c6c6" stroke-width="0.7" />
<line x1="203.2" y1="175.9" x2="203.2" y2="245.6" stroke="#c6c6c6" stroke-width="0.7" />
<line x1="211.05" y1="175.9" x2="211.05" y2="245.6" stroke="#c6c6c6" stroke-width="0.7" />
<line x1="30.5" y1="175.9" x2="218" y2="175.9" stroke="#a9a9a9" stroke-width="0.75" />
<line x1="30.5" y1="181.26" x2="218" y2="181.26" stroke="#a9a9a9" stroke-width="0.75" />
<line x1="30.5" y1="186.62" x2="218" y2="186.62" stroke="#a9a9a9" stroke-width="0.75" />
<line x1="30.5" y1="191.98" x2="218" y2="191.98" stroke="#a9a9a9" stroke-width="0.75" />
<line x1="30.5" y1="197.35" x2="218" y2="197.35" stroke="#a9a9a9" stroke-width="0.75" />
<line x1="30.5" y1="202.71" x2="218" y2="202.71" stroke="#a9a9a9" stroke-width="0.75" />
<line x1="30.5" y1="208.07" x2="218" y2="208.07" stroke="#a9a9a9" stroke-width="0.75" />
<line x1="30.5" y1="213.43" x2="218" y2="213.43" stroke="#a9a9a9" stroke-width="0.75" />
<line x1="30.5" y1="218.79" x2="218" y2="218.79" stroke="#a9a9a9" stroke-width="0.75" />
<line x1="30.5" y1="224.15" x2="218" y2="224.15" stroke="#a9a9a9" stroke-width="0.75" />
<line x1="30.5" y1="229.52" x2="218" y2="229.52" stroke="#a9a9a9" stroke-width="0.75" />
<line x1="30.5" y1="234.88" x2="218" y2="234.88" stroke="#a9a9a9" stroke-width="0.75" />
<line x1="30.5" y1="240.24" x2="218" y2="240.24" stroke="#a9a9a9" stroke-width="0.75" />
<line x1="30.5" y1="245.6" x2="218" y2="245.6" stroke="#a9a9a9" stroke-width="0.75" />
<line x1="30.5" y1="175.6" x2="30.5" y2="245.9" stroke="#999" stroke-width="1.2" />
<line x1="218" y1="175.6" x2="218" y2="245.9" stroke="#aaa" stroke-width="1" />
<line x1="30.5" y1="175.9" x2="218" y2="175.9" stroke="#999" stroke-width="1" />
<text x="27.5" y="177.6" font-size="4.6" text-anchor="end" font-weight="normal" font-style="normal" fill="#333" >110</text>
<text x="27.5" y="182.96" font-size="4.6" text-anchor="end" font-weight="normal" font-style="normal" fill="#333" >100</text>
<text x="27.5" y="188.32" font-size="4.6" text-anchor="end" font-weight="normal" font-style="normal" fill="#333" >90</text>
<text x="27.5" y="193.68" font-size="4.6" text-anchor="end" font-weight="normal" font-style="normal" fill="#333" >80</text>
<text x="27.5" y="199.05" font-size="4.6" text-anchor="end" font-weight="normal" font-style="normal" fill="#333" >70</text>
<text x="27.5" y="204.41" font-size="4.6" text-anchor="end" font-weight="normal" font-style="normal" fill="#333" >60</text>
<text x="27.5" y="209.77" font-size="4.6" text-anchor="end" font-weight="normal" font-style="normal" fill="#333" >50</text>
<text x="27.5" y="215.13" font-size="4.6" text-anchor="end" font-weight="normal" font-style="normal" fill="#333" >40</text>
<text x="27.5" y="220.49" font-size="4.6" text-anchor="end" font-weight="normal" font-style="normal" fill="#333" >30</text>
<text x="27.5" y="225.85" font-size="4.6" text-anchor="end" font-weight="normal" font-style="normal" fill="#333" >20</text>
<text x="27.5" y="231.22" font-size="4.6" text-anchor="end" font-weight="normal" font-style="normal" fill="#333" >10</text>
<text x="27.5" y="236.58" font-size="4.6" text-anchor="end" font-weight="normal" font-style="normal" fill="#333" >0</text>
<text x="27.5" y="241.94" font-size="4.6" text-anchor="end" font-weight="normal" font-style="normal" fill="#333" >-10</text>
<text x="27.5" y="247.3" font-size="4.6" text-anchor="end" font-weight="normal" font-style="normal" fill="#333" >-20</text>
<line x1="16.6" y1="250" x2="16.6" y2="176" stroke="#111" stroke-width="1.3" />
<path d="M16.6,172.3 L14.4,178 L18.8,178 Z" fill="#111"/>
<text transform="translate(12.4,213.5) rotate(-90)" font-size="5.4" font-style="italic" text-anchor="middle" fill="#333" textLength="35" lengthAdjust="spacingAndGlyphs">Aggregation (%)</text>
<text x="30.9" y="253.6" font-size="4.8" text-anchor="middle" font-weight="normal" font-style="normal" fill="#444" textLength="2.2" lengthAdjust="spacingAndGlyphs">0</text>
<text x="38.82" y="253.6" font-size="4.8" text-anchor="middle" font-weight="normal" font-style="normal" fill="#444" textLength="4.0" lengthAdjust="spacingAndGlyphs">20</text>
<text x="46.74" y="253.6" font-size="4.8" text-anchor="middle" font-weight="normal" font-style="normal" fill="#444" textLength="4.0" lengthAdjust="spacingAndGlyphs">40</text>
<text x="54.66" y="253.6" font-size="4.8" text-anchor="middle" font-weight="normal" font-style="normal" fill="#444" textLength="4.0" lengthAdjust="spacingAndGlyphs">60</text>
<text x="62.58" y="253.6" font-size="4.8" text-anchor="middle" font-weight="normal" font-style="normal" fill="#444" textLength="4.0" lengthAdjust="spacingAndGlyphs">80</text>
<text x="70.5" y="253.6" font-size="4.8" text-anchor="middle" font-weight="normal" font-style="normal" fill="#444" textLength="6.4" lengthAdjust="spacingAndGlyphs">100</text>
<text x="78.42" y="253.6" font-size="4.8" text-anchor="middle" font-weight="normal" font-style="normal" fill="#444" textLength="6.4" lengthAdjust="spacingAndGlyphs">120</text>
<text x="86.34" y="253.6" font-size="4.8" text-anchor="middle" font-weight="normal" font-style="normal" fill="#444" textLength="6.4" lengthAdjust="spacingAndGlyphs">140</text>
<text x="94.26" y="253.6" font-size="4.8" text-anchor="middle" font-weight="normal" font-style="normal" fill="#444" textLength="6.4" lengthAdjust="spacingAndGlyphs">160</text>
<text x="102.18" y="253.6" font-size="4.8" text-anchor="middle" font-weight="normal" font-style="normal" fill="#444" textLength="6.4" lengthAdjust="spacingAndGlyphs">180</text>
<text x="110.1" y="253.6" font-size="4.8" text-anchor="middle" font-weight="normal" font-style="normal" fill="#444" textLength="6.4" lengthAdjust="spacingAndGlyphs">200</text>
<text x="118.02" y="253.6" font-size="4.8" text-anchor="middle" font-weight="normal" font-style="normal" fill="#444" textLength="6.4" lengthAdjust="spacingAndGlyphs">220</text>
<text x="125.94" y="253.6" font-size="4.8" text-anchor="middle" font-weight="normal" font-style="normal" fill="#444" textLength="6.4" lengthAdjust="spacingAndGlyphs">240</text>
<text x="133.86" y="253.6" font-size="4.8" text-anchor="middle" font-weight="normal" font-style="normal" fill="#444" textLength="6.4" lengthAdjust="spacingAndGlyphs">260</text>
<text x="141.78" y="253.6" font-size="4.8" text-anchor="middle" font-weight="normal" font-style="normal" fill="#444" textLength="6.4" lengthAdjust="spacingAndGlyphs">280</text>
<path d="M43,234.8 L43.5,244 L44.2,236 L45.2,245.5 L46.4,237 L47.6,245 L48.5,240 L49.5,243.5 L50.5,241" fill="none" stroke="#d29aaa" stroke-width="0.45"/>
<line x1="30.5" y1="234.8" x2="43.5" y2="234.8" stroke="#7a4a5a" stroke-width="0.8" />
<path d="M50.5,245.3 C50.7,245.18 50.55,246.6 51.7,244.6 C52.85,242.6 55.52,236.87 57.4,233.3 C59.28,229.73 61.32,226 63,223.2 C64.68,220.4 65.63,218.75 67.5,216.5 C69.37,214.25 71.95,211.58 74.2,209.7 C76.45,207.82 78.37,206.7 81,205.2 C83.63,203.7 86,202.38 90,200.7 C94,199.02 100.25,196.8 105,195.1 C109.75,193.4 111.83,191.83 118.5,190.5 C125.17,189.17 134.75,188.05 145,187.1 C155.25,186.15 167.83,185.45 180,184.8 C192.17,184.15 211.67,183.47 218,183.2" fill="none" stroke="#c07888" stroke-width="0.8"/>
<path d="M50.8,245.3 C51.03,245.18 51,246.32 52.2,244.6 C53.4,242.88 55.45,238.93 58,235 C60.55,231.07 64.8,224.42 67.5,221 C70.2,217.58 71.95,216.38 74.2,214.5 C76.45,212.62 78.37,211.42 81,209.7 C83.63,207.98 86,206.07 90,204.2 C94,202.33 100.25,200.23 105,198.5 C109.75,196.77 111.83,195.22 118.5,193.8 C125.17,192.38 134.75,191.05 145,190 C155.25,188.95 167.83,188.2 180,187.5 C192.17,186.8 211.67,186.08 218,185.8" fill="none" stroke="#767078" stroke-width="0.75"/>
<path d="M51.3,245.3 C51.53,245.18 51.42,245.98 52.7,244.6 C53.98,243.22 56.53,239.82 59,237 C61.47,234.18 64.97,230.12 67.5,227.7 C70.03,225.28 71.95,224 74.2,222.5 C76.45,221 78.37,219.92 81,218.7 C83.63,217.48 86,216.32 90,215.2 C94,214.08 100.25,212.7 105,212 C109.75,211.3 111.83,211.35 118.5,211 C125.17,210.65 134.75,210.35 145,209.9 C155.25,209.45 167.83,208.82 180,208.3 C192.17,207.78 211.67,207.05 218,206.8" fill="none" stroke="#8090b8" stroke-width="0.75"/>
<path d="M51.8,245.3 C52.05,245.18 51.93,245.48 53.3,244.6 C54.67,243.72 57.63,241.88 60,240 C62.37,238.12 65.13,235.05 67.5,233.3 C69.87,231.55 71.95,230.62 74.2,229.5 C76.45,228.38 78.37,227.65 81,226.6 C83.63,225.55 86,224.42 90,223.2 C94,221.98 100.25,220.25 105,219.3 C109.75,218.35 111.83,218.3 118.5,217.5 C125.17,216.7 134.75,215.55 145,214.5 C155.25,213.45 167.83,212.15 180,211.2 C192.17,210.25 211.67,209.2 218,208.8" fill="none" stroke="#857880" stroke-width="0.75"/>
<rect x="33.2" y="202.2" width="30.6" height="15.8" fill="#fff"/>
<text x="48.3" y="207.6" font-size="8" text-anchor="middle" font-style="normal" font-weight="normal" fill="#2a2a2a" textLength="28.93" lengthAdjust="spacingAndGlyphs">PAR4-AP</text>
<text x="48.1" y="215.2" font-size="8" text-anchor="middle" font-style="normal" font-weight="normal" fill="#2a2a2a" textLength="24.95" lengthAdjust="spacingAndGlyphs">(50 μM)</text>
<line x1="45.5" y1="221.5" x2="45.5" y2="230" stroke="#111" stroke-width="1.4" />
<path d="M45.5,234.2 L43.2,229 L47.8,229 Z" fill="#111"/>
<rect x="142.5" y="214.5" width="77" height="36" fill="#fff"/>
<line x1="145.2" y1="222.3" x2="152.5" y2="222.3" stroke="#c23a2a" stroke-width="1.2" />
<text font-style="normal" fill="#3a3a3a" font-size="7.2" x="155.6" y="224.5" textLength="11.3" lengthAdjust="spacingAndGlyphs">Bax</text>
<text font-style="italic" fill="#3a3a3a" font-size="4.8" x="167.2" y="221.6" textLength="7.2" lengthAdjust="spacingAndGlyphs">+/+</text>
<text font-style="italic" fill="#3a3a3a" font-size="7.2" x="178.7" y="224.5" textLength="11.3" lengthAdjust="spacingAndGlyphs">Bak</text>
<text font-style="italic" fill="#3a3a3a" font-size="4.8" x="190.4" y="221.6" textLength="7.2" lengthAdjust="spacingAndGlyphs">+/+</text>
<line x1="145.2" y1="230.45" x2="152.5" y2="230.45" stroke="#3a4a8a" stroke-width="1.2" />
<text font-style="italic" fill="#3a3a3a" font-size="7.2" x="155.6" y="232.65" textLength="11.3" lengthAdjust="spacingAndGlyphs">Bak</text>
<text font-style="italic" fill="#3a3a3a" font-size="4.8" x="167.2" y="229.75" textLength="4.2" lengthAdjust="spacingAndGlyphs">-/-</text>
<text font-style="italic" fill="#3a3a3a" font-size="7.2" x="175" y="232.65" textLength="11.3" lengthAdjust="spacingAndGlyphs">Bax</text>
<text font-style="italic" fill="#3a3a3a" font-size="4.8" x="186.7" y="229.75" textLength="7" lengthAdjust="spacingAndGlyphs">fl/fl</text>
<line x1="145.2" y1="238.6" x2="152.5" y2="238.6" stroke="#3a9a4a" stroke-width="1.2" />
<text font-style="italic" fill="#3a3a3a" font-size="7.2" x="155.6" y="240.8" textLength="11.3" lengthAdjust="spacingAndGlyphs">Bak</text>
<text font-style="italic" fill="#3a3a3a" font-size="4.8" x="167.2" y="237.9" textLength="7.2" lengthAdjust="spacingAndGlyphs">+/+</text>
<text font-style="italic" fill="#3a3a3a" font-size="7.2" x="178.7" y="240.8" textLength="11.3" lengthAdjust="spacingAndGlyphs">Bax</text>
<text font-style="italic" fill="#3a3a3a" font-size="4.8" x="190.4" y="237.9" textLength="24.4" lengthAdjust="spacingAndGlyphs">PR4Δ/PR4Δ</text>
<line x1="145.2" y1="246.75" x2="152.5" y2="246.75" stroke="#5a1a1a" stroke-width="1.2" />
<text font-style="italic" fill="#3a3a3a" font-size="7.2" x="155.6" y="248.95" textLength="11.3" lengthAdjust="spacingAndGlyphs">Bak</text>
<text font-style="italic" fill="#3a3a3a" font-size="4.8" x="167.2" y="246.05" textLength="4.2" lengthAdjust="spacingAndGlyphs">-/-</text>
<text font-style="italic" fill="#3a3a3a" font-size="7.2" x="175.6" y="248.95" textLength="11.3" lengthAdjust="spacingAndGlyphs">Bax</text>
<text font-style="italic" fill="#3a3a3a" font-size="4.8" x="187.3" y="246.05" textLength="25" lengthAdjust="spacingAndGlyphs">PR4Δ/PR4Δ</text>
<line x1="39" y1="265.1" x2="204" y2="265.1" stroke="#111" stroke-width="1.5" />
<path d="M209,265.1 L202.5,262.4 L202.5,267.8 Z" fill="#111"/>
<text x="121.7" y="274.2" font-size="6.4" text-anchor="middle" font-weight="normal" font-style="normal" fill="#333" textLength="23" lengthAdjust="spacingAndGlyphs">Time (sec)</text>
<line x1="260.2" y1="177" x2="260.2" y2="253.5" stroke="#111" stroke-width="1.1" />
<line x1="259.7" y1="253" x2="355.6" y2="253" stroke="#111" stroke-width="1.1" />
<line x1="257.7" y1="253" x2="260.2" y2="253" stroke="#111" stroke-width="1" />
<text x="256.4" y="255.8" font-size="7.8" text-anchor="end" font-weight="normal" font-style="normal" fill="#333" >0</text>
<line x1="257.7" y1="236.5" x2="260.2" y2="236.5" stroke="#111" stroke-width="1" />
<text x="256.4" y="239.3" font-size="7.8" text-anchor="end" font-weight="normal" font-style="normal" fill="#333" >25</text>
<line x1="257.7" y1="220" x2="260.2" y2="220" stroke="#111" stroke-width="1" />
<text x="256.4" y="222.8" font-size="7.8" text-anchor="end" font-weight="normal" font-style="normal" fill="#333" >50</text>
<line x1="257.7" y1="203.5" x2="260.2" y2="203.5" stroke="#111" stroke-width="1" />
<text x="256.4" y="206.3" font-size="7.8" text-anchor="end" font-weight="normal" font-style="normal" fill="#333" >75</text>
<line x1="257.7" y1="187" x2="260.2" y2="187" stroke="#111" stroke-width="1" />
<text x="256.4" y="189.8" font-size="7.8" text-anchor="end" font-weight="normal" font-style="normal" fill="#333" >100</text>
<text transform="translate(235.8,215.8) rotate(-90)" font-size="8.7" text-anchor="middle" fill="#333" textLength="68.5" lengthAdjust="spacingAndGlyphs">Max aggregation (%)</text>
<line x1="267.5" y1="164.3" x2="345.9" y2="164.3" stroke="#1a1a1a" stroke-width="1.25" />
<line x1="267.5" y1="162.8" x2="267.5" y2="165.9" stroke="#1a1a1a" stroke-width="1" />
<line x1="345.9" y1="162.8" x2="345.9" y2="165.9" stroke="#1a1a1a" stroke-width="1" />
<text x="307" y="165.2" font-size="7.6" text-anchor="middle" font-weight="bold" font-style="normal" fill="#1a1a1a" >***</text>
<line x1="267.5" y1="171.6" x2="326.9" y2="171.6" stroke="#1a1a1a" stroke-width="1.25" />
<line x1="267.5" y1="170.1" x2="267.5" y2="173.2" stroke="#1a1a1a" stroke-width="1" />
<line x1="326.9" y1="170.1" x2="326.9" y2="173.2" stroke="#1a1a1a" stroke-width="1" />
<text x="297.6" y="172.2" font-size="7.6" text-anchor="middle" font-weight="bold" font-style="normal" fill="#1a1a1a" >*</text>
<line x1="267.5" y1="178.2" x2="307.3" y2="178.2" stroke="#1a1a1a" stroke-width="1.25" />
<line x1="267.5" y1="176.7" x2="267.5" y2="179.8" stroke="#1a1a1a" stroke-width="1" />
<line x1="307.3" y1="176.7" x2="307.3" y2="179.8" stroke="#1a1a1a" stroke-width="1" />
<text x="288" y="178.8" font-size="7.6" text-anchor="middle" font-weight="bold" font-style="normal" fill="#1a1a1a" >***</text>
<line x1="267.5" y1="184" x2="288.3" y2="184" stroke="#1a1a1a" stroke-width="1.25" />
<line x1="267.5" y1="182.5" x2="267.5" y2="185.6" stroke="#1a1a1a" stroke-width="1" />
<line x1="288.3" y1="182.5" x2="288.3" y2="185.6" stroke="#1a1a1a" stroke-width="1" />
<text x="278" y="185.6" font-size="7.6" text-anchor="middle" font-weight="bold" font-style="normal" fill="#1a1a1a" ></text>
<text x="278.4" y="183.3" font-size="7" text-anchor="middle" font-weight="normal" font-style="normal" fill="#333" textLength="11.3" lengthAdjust="spacingAndGlyphs">n.s.</text>
<circle cx="265.2" cy="189.3" r="1.5" fill="#571424" stroke="#3a0a18" stroke-width="0.45"/>
<circle cx="267.2" cy="189.4" r="1.5" fill="#571424" stroke="#3a0a18" stroke-width="0.45"/>
<circle cx="266.2" cy="191" r="1.5" fill="#571424" stroke="#3a0a18" stroke-width="0.45"/>
<circle cx="268.2" cy="191.2" r="1.5" fill="#571424" stroke="#3a0a18" stroke-width="0.45"/>
<circle cx="271.6" cy="189.8" r="1.5" fill="#571424" stroke="#3a0a18" stroke-width="0.45"/>
<circle cx="273.6" cy="189.5" r="1.5" fill="#571424" stroke="#3a0a18" stroke-width="0.45"/>
<circle cx="275" cy="190.6" r="1.5" fill="#571424" stroke="#3a0a18" stroke-width="0.45"/>
<circle cx="272.5" cy="191.5" r="1.5" fill="#571424" stroke="#3a0a18" stroke-width="0.45"/>
<circle cx="274.5" cy="192" r="1.5" fill="#571424" stroke="#3a0a18" stroke-width="0.45"/>
<circle cx="265.4" cy="193" r="1.5" fill="#571424" stroke="#3a0a18" stroke-width="0.45"/>
<circle cx="267.4" cy="193" r="1.5" fill="#571424" stroke="#3a0a18" stroke-width="0.45"/>
<circle cx="269.4" cy="193" r="1.5" fill="#571424" stroke="#3a0a18" stroke-width="0.45"/>
<circle cx="271.4" cy="193" r="1.5" fill="#571424" stroke="#3a0a18" stroke-width="0.45"/>
<circle cx="273.4" cy="193" r="1.5" fill="#571424" stroke="#3a0a18" stroke-width="0.45"/>
<circle cx="275" cy="193.4" r="1.5" fill="#571424" stroke="#3a0a18" stroke-width="0.45"/>
<circle cx="266.5" cy="194.8" r="1.5" fill="#571424" stroke="#3a0a18" stroke-width="0.45"/>
<circle cx="268.5" cy="194.8" r="1.5" fill="#571424" stroke="#3a0a18" stroke-width="0.45"/>
<circle cx="270.5" cy="194.8" r="1.5" fill="#571424" stroke="#3a0a18" stroke-width="0.45"/>
<circle cx="272.5" cy="194.8" r="1.5" fill="#571424" stroke="#3a0a18" stroke-width="0.45"/>
<circle cx="274.3" cy="194.8" r="1.5" fill="#571424" stroke="#3a0a18" stroke-width="0.45"/>
<circle cx="269.2" cy="197" r="1.5" fill="#571424" stroke="#3a0a18" stroke-width="0.45"/>
<circle cx="271" cy="197" r="1.5" fill="#571424" stroke="#3a0a18" stroke-width="0.45"/>
<circle cx="269.8" cy="198.6" r="1.5" fill="#571424" stroke="#3a0a18" stroke-width="0.45"/>
<circle cx="264.9" cy="200.1" r="1.5" fill="#571424" stroke="#3a0a18" stroke-width="0.45"/>
<circle cx="266.3" cy="201.5" r="1.5" fill="#571424" stroke="#3a0a18" stroke-width="0.45"/>
<circle cx="267.7" cy="203" r="1.5" fill="#571424" stroke="#3a0a18" stroke-width="0.45"/>
<circle cx="269.1" cy="204.5" r="1.5" fill="#571424" stroke="#3a0a18" stroke-width="0.45"/>
<circle cx="270.1" cy="205.3" r="1.5" fill="#571424" stroke="#3a0a18" stroke-width="0.45"/>
<circle cx="271.3" cy="204.3" r="1.5" fill="#571424" stroke="#3a0a18" stroke-width="0.45"/>
<circle cx="272.7" cy="202.8" r="1.5" fill="#571424" stroke="#3a0a18" stroke-width="0.45"/>
<circle cx="274.1" cy="201.3" r="1.5" fill="#571424" stroke="#3a0a18" stroke-width="0.45"/>
<circle cx="275.3" cy="200.1" r="1.5" fill="#571424" stroke="#3a0a18" stroke-width="0.45"/>
<circle cx="268.2" cy="201" r="1.5" fill="#571424" stroke="#3a0a18" stroke-width="0.45"/>
<circle cx="270" cy="201.3" r="1.5" fill="#571424" stroke="#3a0a18" stroke-width="0.45"/>
<circle cx="271.8" cy="201" r="1.5" fill="#571424" stroke="#3a0a18" stroke-width="0.45"/>
<circle cx="269.5" cy="202.8" r="1.5" fill="#571424" stroke="#3a0a18" stroke-width="0.45"/>
<circle cx="270.6" cy="202.8" r="1.5" fill="#571424" stroke="#3a0a18" stroke-width="0.45"/>
<line x1="263.6" y1="195.9" x2="276.2" y2="195.9" stroke="#1a0508" stroke-width="1" />
<line x1="288.6" y1="191.5" x2="288.6" y2="204.8" stroke="#111" stroke-width="0.9" />
<line x1="286.4" y1="191.5" x2="290.8" y2="191.5" stroke="#111" stroke-width="0.9" />
<line x1="286.4" y1="204.8" x2="290.8" y2="204.8" stroke="#111" stroke-width="0.9" />
<circle cx="288.6" cy="190.4" r="1.45" fill="#e4cc98" stroke="#4e3412" stroke-width="0.95"/>
<circle cx="286" cy="193" r="1.45" fill="#e4cc98" stroke="#4e3412" stroke-width="0.95"/>
<circle cx="290.8" cy="193.3" r="1.45" fill="#e4cc98" stroke="#4e3412" stroke-width="0.95"/>
<circle cx="288.2" cy="195.6" r="1.45" fill="#e4cc98" stroke="#4e3412" stroke-width="0.95"/>
<circle cx="284.5" cy="200.5" r="1.45" fill="#e4cc98" stroke="#4e3412" stroke-width="0.95"/>
<circle cx="287.6" cy="201.2" r="1.45" fill="#e4cc98" stroke="#4e3412" stroke-width="0.95"/>
<circle cx="292.5" cy="200.7" r="1.45" fill="#e4cc98" stroke="#4e3412" stroke-width="0.95"/>
<circle cx="286" cy="204.2" r="1.45" fill="#e4cc98" stroke="#4e3412" stroke-width="0.95"/>
<circle cx="290.2" cy="204.4" r="1.45" fill="#e4cc98" stroke="#4e3412" stroke-width="0.95"/>
<line x1="282.6" y1="198.2" x2="294.6" y2="198.2" stroke="#111" stroke-width="1" />
<line x1="307.6" y1="208.8" x2="307.6" y2="234.5" stroke="#111" stroke-width="0.9" />
<line x1="305.4" y1="208.8" x2="309.8" y2="208.8" stroke="#111" stroke-width="0.9" />
<line x1="305.4" y1="234.5" x2="309.8" y2="234.5" stroke="#111" stroke-width="0.9" />
<circle cx="307.7" cy="190" r="1.5" fill="#2e3a62" stroke="#141c38" stroke-width="0.8"/>
<circle cx="303.2" cy="202.4" r="1.5" fill="#2e3a62" stroke="#141c38" stroke-width="0.8"/>
<circle cx="310.3" cy="200.6" r="1.5" fill="#2e3a62" stroke="#141c38" stroke-width="0.8"/>
<circle cx="305.9" cy="206" r="1.5" fill="#2e3a62" stroke="#141c38" stroke-width="0.8"/>
<circle cx="310" cy="207.2" r="1.5" fill="#2e3a62" stroke="#141c38" stroke-width="0.8"/>
<circle cx="305.5" cy="212" r="1.5" fill="#2e3a62" stroke="#141c38" stroke-width="0.8"/>
<circle cx="309.5" cy="212.5" r="1.5" fill="#2e3a62" stroke="#141c38" stroke-width="0.8"/>
<circle cx="303.6" cy="215" r="1.5" fill="#2e3a62" stroke="#141c38" stroke-width="0.8"/>
<circle cx="311.5" cy="215" r="1.5" fill="#2e3a62" stroke="#141c38" stroke-width="0.8"/>
<circle cx="306.5" cy="218.3" r="1.5" fill="#2e3a62" stroke="#141c38" stroke-width="0.8"/>
<circle cx="310.3" cy="219" r="1.5" fill="#2e3a62" stroke="#141c38" stroke-width="0.8"/>
<circle cx="303.2" cy="221.5" r="1.5" fill="#2e3a62" stroke="#141c38" stroke-width="0.8"/>
<circle cx="307.8" cy="222.2" r="1.5" fill="#2e3a62" stroke="#141c38" stroke-width="0.8"/>
<circle cx="311.9" cy="221.5" r="1.5" fill="#2e3a62" stroke="#141c38" stroke-width="0.8"/>
<circle cx="304" cy="225.5" r="1.5" fill="#2e3a62" stroke="#141c38" stroke-width="0.8"/>
<circle cx="308.5" cy="225.5" r="1.5" fill="#2e3a62" stroke="#141c38" stroke-width="0.8"/>
<circle cx="312.6" cy="226.2" r="1.5" fill="#2e3a62" stroke="#141c38" stroke-width="0.8"/>
<circle cx="305.6" cy="229.5" r="1.5" fill="#2e3a62" stroke="#141c38" stroke-width="0.8"/>
<circle cx="309.7" cy="230" r="1.5" fill="#2e3a62" stroke="#141c38" stroke-width="0.8"/>
<circle cx="303.2" cy="233.4" r="1.5" fill="#2e3a62" stroke="#141c38" stroke-width="0.8"/>
<circle cx="311.9" cy="233.4" r="1.5" fill="#2e3a62" stroke="#141c38" stroke-width="0.8"/>
<circle cx="306.4" cy="235.8" r="1.5" fill="#2e3a62" stroke="#141c38" stroke-width="0.8"/>
<circle cx="309.5" cy="235.8" r="1.5" fill="#2e3a62" stroke="#141c38" stroke-width="0.8"/>
<circle cx="303.2" cy="238.2" r="1.5" fill="#2e3a62" stroke="#141c38" stroke-width="0.8"/>
<circle cx="311.9" cy="238.2" r="1.5" fill="#2e3a62" stroke="#141c38" stroke-width="0.8"/>
<circle cx="307.9" cy="241.7" r="1.5" fill="#2e3a62" stroke="#141c38" stroke-width="0.8"/>
<line x1="301.4" y1="222" x2="313.8" y2="222" stroke="#111" stroke-width="1" />
<line x1="326.5" y1="195.8" x2="326.5" y2="216" stroke="#111" stroke-width="0.9" />
<line x1="324.3" y1="195.8" x2="328.7" y2="195.8" stroke="#111" stroke-width="0.9" />
<line x1="324.3" y1="216" x2="328.7" y2="216" stroke="#111" stroke-width="0.9" />
<circle cx="326.2" cy="191.4" r="1.5" fill="#eef2e6" stroke="#34501c" stroke-width="1"/>
<circle cx="322.5" cy="195.6" r="1.5" fill="#eef2e6" stroke="#34501c" stroke-width="1"/>
<circle cx="330.8" cy="195" r="1.5" fill="#eef2e6" stroke="#34501c" stroke-width="1"/>
<circle cx="326.8" cy="198.9" r="1.5" fill="#eef2e6" stroke="#34501c" stroke-width="1"/>
<circle cx="322.3" cy="204.8" r="1.5" fill="#eef2e6" stroke="#34501c" stroke-width="1"/>
<circle cx="326.3" cy="204.8" r="1.5" fill="#eef2e6" stroke="#34501c" stroke-width="1"/>
<circle cx="329.6" cy="204" r="1.5" fill="#eef2e6" stroke="#34501c" stroke-width="1"/>
<circle cx="328.6" cy="209.6" r="1.5" fill="#eef2e6" stroke="#34501c" stroke-width="1"/>
<circle cx="322.8" cy="218.8" r="1.5" fill="#eef2e6" stroke="#34501c" stroke-width="1"/>
<circle cx="330.7" cy="219.4" r="1.5" fill="#eef2e6" stroke="#34501c" stroke-width="1"/>
<circle cx="327" cy="222.3" r="1.5" fill="#eef2e6" stroke="#34501c" stroke-width="1"/>
<line x1="320.5" y1="204.8" x2="332.5" y2="204.8" stroke="#111" stroke-width="1" />
<line x1="345.8" y1="218.2" x2="345.8" y2="236" stroke="#111" stroke-width="0.9" />
<line x1="343.6" y1="218.2" x2="348" y2="218.2" stroke="#111" stroke-width="0.9" />
<line x1="343.6" y1="236" x2="348" y2="236" stroke="#111" stroke-width="0.9" />
<circle cx="350.2" cy="215.1" r="1.5" fill="#34304e" stroke="#17142a" stroke-width="0.8"/>
<circle cx="340.9" cy="218.2" r="1.5" fill="#34304e" stroke="#17142a" stroke-width="0.8"/>
<circle cx="344" cy="218.2" r="1.5" fill="#34304e" stroke="#17142a" stroke-width="0.8"/>
<circle cx="347.1" cy="218.7" r="1.5" fill="#34304e" stroke="#17142a" stroke-width="0.8"/>
<circle cx="340.9" cy="223.7" r="1.5" fill="#34304e" stroke="#17142a" stroke-width="0.8"/>
<circle cx="344.8" cy="224.5" r="1.5" fill="#34304e" stroke="#17142a" stroke-width="0.8"/>
<circle cx="350.2" cy="224.5" r="1.5" fill="#34304e" stroke="#17142a" stroke-width="0.8"/>
<circle cx="341.7" cy="228.4" r="1.5" fill="#34304e" stroke="#17142a" stroke-width="0.8"/>
<circle cx="346.4" cy="228.4" r="1.5" fill="#34304e" stroke="#17142a" stroke-width="0.8"/>
<circle cx="350.2" cy="229.9" r="1.5" fill="#34304e" stroke="#17142a" stroke-width="0.8"/>
<circle cx="345.6" cy="233" r="1.5" fill="#34304e" stroke="#17142a" stroke-width="0.8"/>
<circle cx="343.2" cy="236.2" r="1.5" fill="#34304e" stroke="#17142a" stroke-width="0.8"/>
<circle cx="350.2" cy="237.7" r="1.5" fill="#34304e" stroke="#17142a" stroke-width="0.8"/>
<circle cx="347.9" cy="240" r="1.5" fill="#34304e" stroke="#17142a" stroke-width="0.8"/>
<circle cx="343.2" cy="243.2" r="1.5" fill="#34304e" stroke="#17142a" stroke-width="0.8"/>
<line x1="339.8" y1="225.2" x2="351.8" y2="225.2" stroke="#111" stroke-width="1" />
<text x="245.2" y="263.6" font-size="8" text-anchor="middle" font-weight="normal" font-style="italic" fill="#333" >Bak</text>
<text x="245.2" y="272.6" font-size="8" text-anchor="middle" font-weight="normal" font-style="italic" fill="#333" >Bax</text>
<text x="268.7" y="263.6" font-size="8.2" text-anchor="middle" font-weight="normal" font-style="normal" fill="#333" >+/+</text>
<text x="288" y="263.6" font-size="8.2" text-anchor="middle" font-weight="normal" font-style="normal" fill="#333" >+/+</text>
<text x="307.8" y="263.6" font-size="8.2" text-anchor="middle" font-weight="normal" font-style="normal" fill="#333" >-/-</text>
<text x="326.6" y="263.6" font-size="8.2" text-anchor="middle" font-weight="normal" font-style="normal" fill="#333" >+/+</text>
<text x="344.9" y="263.6" font-size="8.2" text-anchor="middle" font-weight="normal" font-style="normal" fill="#333" >-/-</text>
<text x="268.7" y="272.6" font-size="8.2" text-anchor="middle" font-weight="normal" font-style="normal" fill="#333" >+/+</text>
<text x="288.7" y="272.6" font-size="8.2" text-anchor="middle" font-weight="normal" font-style="italic" fill="#333" >fl/fl</text>
<text x="307.8" y="272.6" font-size="8.2" text-anchor="middle" font-weight="normal" font-style="italic" fill="#333" >fl/fl</text>
<text x="326" y="272.6" font-size="8.2" text-anchor="middle" font-weight="normal" font-style="normal" fill="#333" >Δ/Δ</text>
<text x="345.5" y="272.6" font-size="8.2" text-anchor="middle" font-weight="normal" font-style="normal" fill="#333" >Δ/Δ</text>
<line x1="401" y1="164.8" x2="401" y2="253.3" stroke="#111" stroke-width="1.1" />
<line x1="400.5" y1="252.8" x2="508.5" y2="252.8" stroke="#111" stroke-width="1.1" />
<line x1="397.8" y1="252.8" x2="401" y2="252.8" stroke="#111" stroke-width="1.3" />
<text x="395.8" y="255.9" font-size="8.7" text-anchor="end" font-style="normal" font-weight="normal" fill="#3a3a3a" textLength="4.4" lengthAdjust="spacingAndGlyphs">0</text>
<line x1="397.8" y1="231.3" x2="401" y2="231.3" stroke="#111" stroke-width="1.3" />
<text x="395.8" y="234.4" font-size="8.7" text-anchor="end" font-style="normal" font-weight="normal" fill="#3a3a3a" textLength="8.81" lengthAdjust="spacingAndGlyphs">20</text>
<line x1="397.8" y1="209.8" x2="401" y2="209.8" stroke="#111" stroke-width="1.3" />
<text x="395.8" y="212.9" font-size="8.7" text-anchor="end" font-style="normal" font-weight="normal" fill="#3a3a3a" textLength="8.81" lengthAdjust="spacingAndGlyphs">40</text>
<line x1="397.8" y1="188.3" x2="401" y2="188.3" stroke="#111" stroke-width="1.3" />
<text x="395.8" y="191.4" font-size="8.7" text-anchor="end" font-style="normal" font-weight="normal" fill="#3a3a3a" textLength="8.81" lengthAdjust="spacingAndGlyphs">60</text>
<line x1="397.8" y1="166.8" x2="401" y2="166.8" stroke="#111" stroke-width="1.3" />
<text x="395.8" y="169.9" font-size="8.7" text-anchor="end" font-style="normal" font-weight="normal" fill="#3a3a3a" textLength="8.81" lengthAdjust="spacingAndGlyphs">80</text>
<text transform="translate(381.2,208.9) rotate(-90)" font-size="8.7" text-anchor="middle" fill="#333" textLength="68.5" lengthAdjust="spacingAndGlyphs">Max aggregation (%)</text>
<line x1="419.4" y1="252.8" x2="419.4" y2="255.8" stroke="#111" stroke-width="1" />
<line x1="407.3" y1="204.1" x2="407.3" y2="191.2" stroke="#333" stroke-width="0.9" />
<line x1="406" y1="191.2" x2="408.6" y2="191.2" stroke="#333" stroke-width="0.9" />
<rect x="405.2" y="204.1" width="4.2" height="48.7" fill="#aa1238"/>
<line x1="413.3" y1="204.1" x2="413.3" y2="184.22" stroke="#333" stroke-width="0.9" />
<line x1="412" y1="184.22" x2="414.6" y2="184.22" stroke="#333" stroke-width="0.9" />
<rect x="411.2" y="204.1" width="4.2" height="48.7" fill="#e49a2c"/>
<line x1="419.3" y1="197.65" x2="419.3" y2="191.96" stroke="#333" stroke-width="0.9" />
<line x1="418" y1="191.96" x2="420.6" y2="191.96" stroke="#333" stroke-width="0.9" />
<rect x="417.2" y="197.65" width="4.2" height="55.15" fill="#2b4b89"/>
<line x1="425.3" y1="204.64" x2="425.3" y2="190.34" stroke="#333" stroke-width="0.9" />
<line x1="424" y1="190.34" x2="426.6" y2="190.34" stroke="#333" stroke-width="0.9" />
<rect x="423.2" y="204.64" width="4.2" height="48.16" fill="#66b443"/>
<line x1="431.3" y1="202.28" x2="431.3" y2="196.69" stroke="#333" stroke-width="0.9" />
<line x1="430" y1="196.69" x2="432.6" y2="196.69" stroke="#333" stroke-width="0.9" />
<rect x="429.2" y="202.28" width="4.2" height="50.53" fill="#4f2571"/>
<line x1="455.3" y1="252.8" x2="455.3" y2="255.8" stroke="#111" stroke-width="1" />
<line x1="443.2" y1="224.96" x2="443.2" y2="216.47" stroke="#333" stroke-width="0.9" />
<line x1="441.9" y1="216.47" x2="444.5" y2="216.47" stroke="#333" stroke-width="0.9" />
<rect x="441.1" y="224.96" width="4.2" height="27.84" fill="#aa1238"/>
<line x1="449.2" y1="221.62" x2="449.2" y2="216.47" stroke="#333" stroke-width="0.9" />
<line x1="447.9" y1="216.47" x2="450.5" y2="216.47" stroke="#333" stroke-width="0.9" />
<rect x="447.1" y="221.62" width="4.2" height="31.18" fill="#e49a2c"/>
<line x1="455.2" y1="229.69" x2="455.2" y2="215.39" stroke="#333" stroke-width="0.9" />
<line x1="453.9" y1="215.39" x2="456.5" y2="215.39" stroke="#333" stroke-width="0.9" />
<rect x="453.1" y="229.69" width="4.2" height="23.11" fill="#2b4b89"/>
<line x1="461.2" y1="221.09" x2="461.2" y2="209.48" stroke="#333" stroke-width="0.9" />
<line x1="459.9" y1="209.48" x2="462.5" y2="209.48" stroke="#333" stroke-width="0.9" />
<rect x="459.1" y="221.09" width="4.2" height="31.71" fill="#66b443"/>
<line x1="467.2" y1="220.55" x2="467.2" y2="214.64" stroke="#333" stroke-width="0.9" />
<line x1="465.9" y1="214.64" x2="468.5" y2="214.64" stroke="#333" stroke-width="0.9" />
<rect x="465.1" y="220.55" width="4.2" height="32.25" fill="#4f2571"/>
<line x1="491.3" y1="252.8" x2="491.3" y2="255.8" stroke="#111" stroke-width="1" />
<line x1="479.2" y1="234.53" x2="479.2" y2="226.25" stroke="#333" stroke-width="0.9" />
<line x1="477.9" y1="226.25" x2="480.5" y2="226.25" stroke="#333" stroke-width="0.9" />
<rect x="477.1" y="234.53" width="4.2" height="18.28" fill="#aa1238"/>
<line x1="485.2" y1="236.89" x2="485.2" y2="228.61" stroke="#333" stroke-width="0.9" />
<line x1="483.9" y1="228.61" x2="486.5" y2="228.61" stroke="#333" stroke-width="0.9" />
<rect x="483.1" y="236.89" width="4.2" height="15.91" fill="#e49a2c"/>
<line x1="491.2" y1="234.85" x2="491.2" y2="228.61" stroke="#333" stroke-width="0.9" />
<line x1="489.9" y1="228.61" x2="492.5" y2="228.61" stroke="#333" stroke-width="0.9" />
<rect x="489.1" y="234.85" width="4.2" height="17.95" fill="#2b4b89"/>
<line x1="497.2" y1="229.15" x2="497.2" y2="219.05" stroke="#333" stroke-width="0.9" />
<line x1="495.9" y1="219.05" x2="498.5" y2="219.05" stroke="#333" stroke-width="0.9" />
<rect x="495.1" y="229.15" width="4.2" height="23.65" fill="#66b443"/>
<line x1="503.2" y1="232.38" x2="503.2" y2="229.79" stroke="#333" stroke-width="0.9" />
<line x1="501.9" y1="229.79" x2="504.5" y2="229.79" stroke="#333" stroke-width="0.9" />
<rect x="501.1" y="232.38" width="4.2" height="20.43" fill="#4f2571"/>
<text x="419.6" y="266.2" font-size="8.6" text-anchor="middle" font-style="normal" font-weight="normal" fill="#333" textLength="8.8" lengthAdjust="spacingAndGlyphs">10</text>
<text x="456" y="266.2" font-size="8.6" text-anchor="middle" font-style="normal" font-weight="normal" fill="#333" textLength="11" lengthAdjust="spacingAndGlyphs">2.5</text>
<text x="491.8" y="266.2" font-size="8.6" text-anchor="middle" font-style="normal" font-weight="normal" fill="#333" textLength="4.4" lengthAdjust="spacingAndGlyphs">1</text>
<text x="455.5" y="279.2" font-size="8.6" text-anchor="middle" font-style="normal" font-weight="normal" fill="#333" textLength="28.19" lengthAdjust="spacingAndGlyphs">ADP μM</text>
<rect x="438.2" y="160.1" width="9.6" height="7.4" fill="#aa1238"/>
<text font-style="italic" fill="#3a3a3a" font-size="8.4" x="451.8" y="165.6" textLength="11.5" lengthAdjust="spacingAndGlyphs">Bak</text>
<text font-style="italic" fill="#3a3a3a" font-size="5.6" x="463.6" y="162.7" textLength="7.2" lengthAdjust="spacingAndGlyphs">+/+</text>
<text font-style="italic" fill="#3a3a3a" font-size="8.4" x="474.8" y="165.6" textLength="11.5" lengthAdjust="spacingAndGlyphs">Bax</text>
<text font-style="italic" fill="#3a3a3a" font-size="5.6" x="486.7" y="162.7" textLength="7.2" lengthAdjust="spacingAndGlyphs">+/+</text>
<rect x="438.2" y="169.1" width="9.6" height="7.4" fill="#e49a2c"/>
<text font-style="italic" fill="#3a3a3a" font-size="8.4" x="451.8" y="174.6" textLength="11.5" lengthAdjust="spacingAndGlyphs">Bak</text>
<text font-style="italic" fill="#3a3a3a" font-size="5.6" x="463.6" y="171.7" textLength="7.2" lengthAdjust="spacingAndGlyphs">+/+</text>
<text font-style="italic" fill="#3a3a3a" font-size="8.4" x="474.8" y="174.6" textLength="11.5" lengthAdjust="spacingAndGlyphs">Bax</text>
<text font-style="italic" fill="#3a3a3a" font-size="5.6" x="486.7" y="171.7" textLength="7" lengthAdjust="spacingAndGlyphs">fl/fl</text>
<rect x="438.2" y="178.1" width="9.6" height="7.4" fill="#2b4b89"/>
<text font-style="italic" fill="#3a3a3a" font-size="8.4" x="451.8" y="183.6" textLength="11.5" lengthAdjust="spacingAndGlyphs">Bak</text>
<text font-style="italic" fill="#3a3a3a" font-size="5.6" x="463.6" y="180.7" textLength="4.2" lengthAdjust="spacingAndGlyphs">-/-</text>
<text font-style="italic" fill="#3a3a3a" font-size="8.4" x="471" y="183.6" textLength="11.5" lengthAdjust="spacingAndGlyphs">Bax</text>
<text font-style="italic" fill="#3a3a3a" font-size="5.6" x="482.9" y="180.7" textLength="7" lengthAdjust="spacingAndGlyphs">fl/fl</text>
<rect x="438.2" y="187.1" width="9.6" height="7.4" fill="#66b443"/>
<text font-style="italic" fill="#3a3a3a" font-size="8.4" x="451.8" y="192.6" textLength="11.5" lengthAdjust="spacingAndGlyphs">Bak</text>
<text font-style="italic" fill="#3a3a3a" font-size="5.6" x="463.6" y="189.7" textLength="7.2" lengthAdjust="spacingAndGlyphs">+/+</text>
<text font-style="italic" fill="#3a3a3a" font-size="8.4" x="474.8" y="192.6" textLength="11.5" lengthAdjust="spacingAndGlyphs">Bax</text>
<text font-style="italic" fill="#3a3a3a" font-size="5.6" x="486.7" y="189.7" textLength="23.5" lengthAdjust="spacingAndGlyphs">PR4Δ/PR4Δ</text>
<rect x="438.2" y="196.1" width="9.6" height="7.4" fill="#4f2571"/>
<text font-style="italic" fill="#3a3a3a" font-size="8.4" x="451.8" y="201.6" textLength="11.5" lengthAdjust="spacingAndGlyphs">Bak</text>
<text font-style="italic" fill="#3a3a3a" font-size="5.6" x="463.6" y="198.7" textLength="4.2" lengthAdjust="spacingAndGlyphs">-/-</text>
<text font-style="italic" fill="#3a3a3a" font-size="8.4" x="471" y="201.6" textLength="11.5" lengthAdjust="spacingAndGlyphs">Bax</text>
<text font-style="italic" fill="#3a3a3a" font-size="5.6" x="482.9" y="198.7" textLength="23.5" lengthAdjust="spacingAndGlyphs">PR4Δ/PR4Δ</text>
<text x="7" y="16.1" font-size="11.4" text-anchor="start" font-weight="bold" font-style="normal" fill="#111" >A</text>
<text x="262.3" y="16.6" font-size="11.6" text-anchor="start" font-weight="bold" font-style="normal" fill="#111" >B</text>
<text x="6.6" y="153.6" font-size="11.6" text-anchor="start" font-weight="bold" font-style="normal" fill="#111" >C</text>
<text x="374.5" y="153.9" font-size="11.2" text-anchor="start" font-weight="bold" font-style="normal" fill="#111" >D</text>
<rect x="0.5" y="0.5" width="518.6" height="287.4" fill="none" stroke="#000" stroke-width="1.2"/>
<rect x="518.6" y="0" width="1.4" height="289" fill="#000"/>
<rect x="0" y="287.6" width="520" height="1.4" fill="#000"/>
</svg>
</body></html>
